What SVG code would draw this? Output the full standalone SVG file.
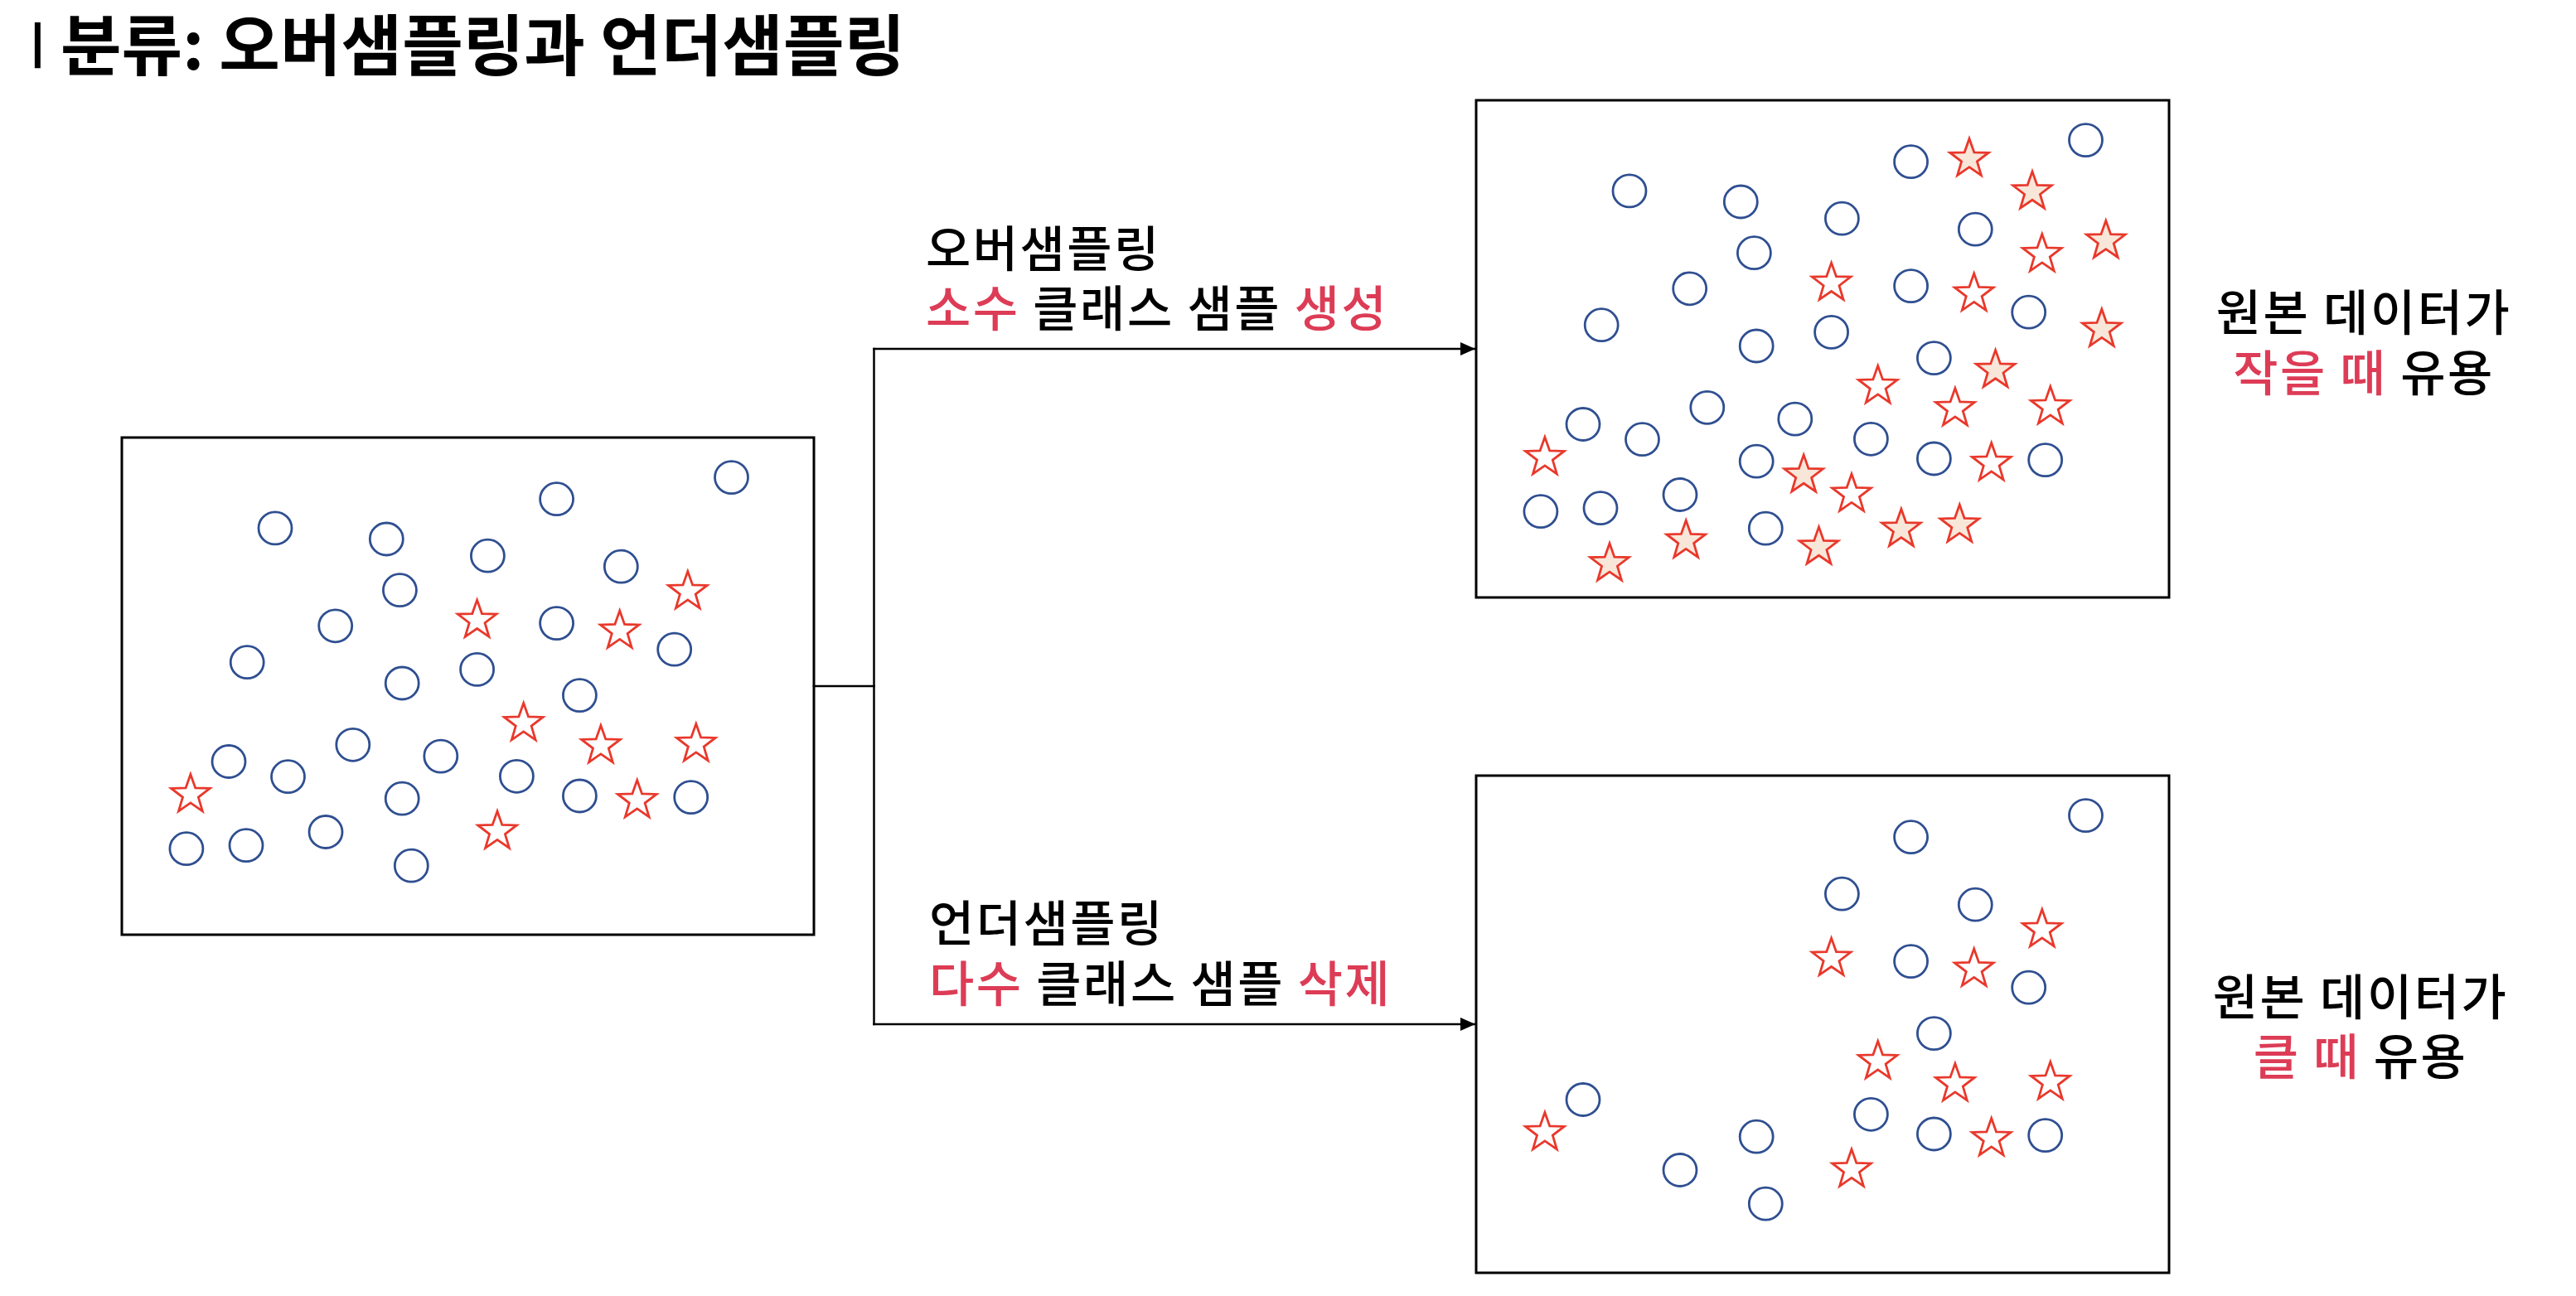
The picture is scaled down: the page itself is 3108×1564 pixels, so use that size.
<svg xmlns="http://www.w3.org/2000/svg" xmlns:xlink="http://www.w3.org/1999/xlink" width="3108" height="1564" viewBox="0 0 3108 1564">
<style>
.bg{fill:#fff}
.box{fill:#fff;stroke:#000;stroke-width:3}
.c{fill:none;stroke:#2F4F91;stroke-width:2.8}
.s{fill:#fff;stroke:#E9382B;stroke-width:2.8}
.sf{fill:#F8E7D9;stroke:#E9382B;stroke-width:2.8}
.t{font-family:"Noto Sans CJK KR","Noto Sans",sans-serif;fill:#000}
.title{font-size:80px;font-weight:700}
.bar{font-size:60px;font-weight:400;stroke:#000;stroke-width:2}
.lbl{font-size:59px;font-weight:500;letter-spacing:2.5px}
.red{fill:#DD3C56}
.conn{fill:none;stroke:#000;stroke-width:2.5;stroke-linecap:square}
</style>
<defs>
<path id="star" d="M0,-24.5 L5.823,-8.015 L23.301,-7.571 L9.422,3.061 L14.401,19.821 L0,9.907 L-14.401,19.821 L-9.422,3.061 L-23.301,-7.571 L-5.823,-8.015 Z"/>
<marker id="arr" markerUnits="userSpaceOnUse" markerWidth="19" markerHeight="16" refX="18" refY="8" orient="auto">
<path d="M0,0 L18,8 L0,16 Z" fill="#000"/>
</marker>
</defs>
<rect class="bg" x="0" y="0" width="3108" height="1564"/>

<g id="title">
<text class="t bar" x="45" y="77" text-anchor="middle">ㅣ</text>
<text class="t title" x="73" y="84">분류: 오버샘플링과 언더샘플링</text>
</g>

<g id="original" transform="translate(147,528)">
<rect class="box" x="0" y="0" width="835" height="600"/>
<ellipse class="c" cx="185" cy="109.4" rx="20" ry="19.5"/>
<ellipse class="c" cx="319.3" cy="122.5" rx="20" ry="19.5"/>
<ellipse class="c" cx="524.6" cy="74.2" rx="20" ry="19.5"/>
<ellipse class="c" cx="735.5" cy="48.1" rx="20" ry="19.5"/>
<ellipse class="c" cx="441.4" cy="142.7" rx="20" ry="19.5"/>
<ellipse class="c" cx="602.3" cy="155.7" rx="20" ry="19.5"/>
<ellipse class="c" cx="335.4" cy="184.2" rx="20" ry="19.5"/>
<ellipse class="c" cx="257.7" cy="227.3" rx="20" ry="19.5"/>
<ellipse class="c" cx="524.6" cy="224.1" rx="20" ry="19.5"/>
<ellipse class="c" cx="666.7" cy="255.7" rx="20" ry="19.5"/>
<ellipse class="c" cx="151.2" cy="271.2" rx="20" ry="19.5"/>
<ellipse class="c" cx="338.2" cy="296.5" rx="20" ry="19.5"/>
<ellipse class="c" cx="428.6" cy="279.9" rx="20" ry="19.5"/>
<ellipse class="c" cx="552.4" cy="311.1" rx="20" ry="19.5"/>
<ellipse class="c" cx="129" cy="391" rx="20" ry="19.5"/>
<ellipse class="c" cx="200.5" cy="409.2" rx="20" ry="19.5"/>
<ellipse class="c" cx="278.8" cy="370.8" rx="20" ry="19.5"/>
<ellipse class="c" cx="384.8" cy="384.6" rx="20" ry="19.5"/>
<ellipse class="c" cx="476.4" cy="408.8" rx="20" ry="19.5"/>
<ellipse class="c" cx="552.4" cy="432.5" rx="20" ry="19.5"/>
<ellipse class="c" cx="686.7" cy="434.1" rx="20" ry="19.5"/>
<ellipse class="c" cx="338.2" cy="435.7" rx="20" ry="19.5"/>
<ellipse class="c" cx="77.9" cy="496.2" rx="20" ry="19.5"/>
<ellipse class="c" cx="150" cy="492.2" rx="20" ry="19.5"/>
<ellipse class="c" cx="246" cy="476" rx="20" ry="19.5"/>
<ellipse class="c" cx="349.3" cy="516.7" rx="20" ry="19.5"/>
<use class="s" href="#star" x="428.6" y="220.6"/>
<use class="s" href="#star" x="682.8" y="186"/>
<use class="s" href="#star" x="600.7" y="233.5"/>
<use class="s" href="#star" x="484.7" y="345"/>
<use class="s" href="#star" x="577.9" y="372"/>
<use class="s" href="#star" x="692.8" y="370"/>
<use class="s" href="#star" x="82.9" y="431"/>
<use class="s" href="#star" x="621.7" y="438"/>
<use class="s" href="#star" x="453" y="475.5"/>
</g>

<g id="oversampled" transform="translate(1781,121)">
<rect class="box" x="0" y="0" width="836" height="600"/>
<ellipse class="c" cx="185" cy="109.4" rx="20" ry="19.5"/>
<ellipse class="c" cx="319.3" cy="122.5" rx="20" ry="19.5"/>
<ellipse class="c" cx="524.6" cy="74.2" rx="20" ry="19.5"/>
<ellipse class="c" cx="735.5" cy="48.1" rx="20" ry="19.5"/>
<ellipse class="c" cx="441.4" cy="142.7" rx="20" ry="19.5"/>
<ellipse class="c" cx="602.3" cy="155.7" rx="20" ry="19.5"/>
<ellipse class="c" cx="335.4" cy="184.2" rx="20" ry="19.5"/>
<ellipse class="c" cx="257.7" cy="227.3" rx="20" ry="19.5"/>
<ellipse class="c" cx="524.6" cy="224.1" rx="20" ry="19.5"/>
<ellipse class="c" cx="666.7" cy="255.7" rx="20" ry="19.5"/>
<ellipse class="c" cx="151.2" cy="271.2" rx="20" ry="19.5"/>
<ellipse class="c" cx="338.2" cy="296.5" rx="20" ry="19.5"/>
<ellipse class="c" cx="428.6" cy="279.9" rx="20" ry="19.5"/>
<ellipse class="c" cx="552.4" cy="311.1" rx="20" ry="19.5"/>
<ellipse class="c" cx="129" cy="391" rx="20" ry="19.5"/>
<ellipse class="c" cx="200.5" cy="409.2" rx="20" ry="19.5"/>
<ellipse class="c" cx="278.8" cy="370.8" rx="20" ry="19.5"/>
<ellipse class="c" cx="384.8" cy="384.6" rx="20" ry="19.5"/>
<ellipse class="c" cx="476.4" cy="408.8" rx="20" ry="19.5"/>
<ellipse class="c" cx="552.4" cy="432.5" rx="20" ry="19.5"/>
<ellipse class="c" cx="686.7" cy="434.1" rx="20" ry="19.5"/>
<ellipse class="c" cx="338.2" cy="435.7" rx="20" ry="19.5"/>
<ellipse class="c" cx="77.9" cy="496.2" rx="20" ry="19.5"/>
<ellipse class="c" cx="150" cy="492.2" rx="20" ry="19.5"/>
<ellipse class="c" cx="246" cy="476" rx="20" ry="19.5"/>
<ellipse class="c" cx="349.3" cy="516.7" rx="20" ry="19.5"/>
<use class="s" href="#star" x="428.6" y="220.6"/>
<use class="s" href="#star" x="682.8" y="186"/>
<use class="s" href="#star" x="600.7" y="233.5"/>
<use class="s" href="#star" x="484.7" y="345"/>
<use class="s" href="#star" x="577.9" y="372"/>
<use class="s" href="#star" x="692.8" y="370"/>
<use class="s" href="#star" x="82.9" y="431"/>
<use class="s" href="#star" x="621.7" y="438"/>
<use class="s" href="#star" x="453" y="475.5"/>
<use class="sf" href="#star" x="595" y="70.8"/>
<use class="sf" href="#star" x="671" y="110.4"/>
<use class="sf" href="#star" x="759.8" y="169.7"/>
<use class="sf" href="#star" x="754.8" y="276.5"/>
<use class="sf" href="#star" x="626.6" y="325.9"/>
<use class="sf" href="#star" x="395.2" y="452.4"/>
<use class="sf" href="#star" x="253.2" y="531.5"/>
<use class="sf" href="#star" x="161" y="559.2"/>
<use class="sf" href="#star" x="413.5" y="539.4"/>
<use class="sf" href="#star" x="512.9" y="517.7"/>
<use class="sf" href="#star" x="583.3" y="512.5"/>
</g>

<g id="undersampled" transform="translate(1781,936)">
<rect class="box" x="0" y="0" width="836" height="600"/>
<ellipse class="c" cx="524.6" cy="74.2" rx="20" ry="19.5"/>
<ellipse class="c" cx="735.5" cy="48.1" rx="20" ry="19.5"/>
<ellipse class="c" cx="441.4" cy="142.7" rx="20" ry="19.5"/>
<ellipse class="c" cx="602.3" cy="155.7" rx="20" ry="19.5"/>
<ellipse class="c" cx="524.6" cy="224.1" rx="20" ry="19.5"/>
<ellipse class="c" cx="666.7" cy="255.7" rx="20" ry="19.5"/>
<ellipse class="c" cx="552.4" cy="311.1" rx="20" ry="19.5"/>
<ellipse class="c" cx="129" cy="391" rx="20" ry="19.5"/>
<ellipse class="c" cx="476.4" cy="408.8" rx="20" ry="19.5"/>
<ellipse class="c" cx="552.4" cy="432.5" rx="20" ry="19.5"/>
<ellipse class="c" cx="686.7" cy="434.1" rx="20" ry="19.5"/>
<ellipse class="c" cx="338.2" cy="435.7" rx="20" ry="19.5"/>
<ellipse class="c" cx="246" cy="476" rx="20" ry="19.5"/>
<ellipse class="c" cx="349.3" cy="516.7" rx="20" ry="19.5"/>
<use class="s" href="#star" x="428.6" y="220.6"/>
<use class="s" href="#star" x="682.8" y="186"/>
<use class="s" href="#star" x="600.7" y="233.5"/>
<use class="s" href="#star" x="484.7" y="345"/>
<use class="s" href="#star" x="577.9" y="372"/>
<use class="s" href="#star" x="692.8" y="370"/>
<use class="s" href="#star" x="82.9" y="431"/>
<use class="s" href="#star" x="621.7" y="438"/>
<use class="s" href="#star" x="453" y="475.5"/>
</g>

<g id="connectors">
<path class="conn" d="M982,828 H1054.5"/>
<path class="conn" d="M1054.5,421 V1236"/>
<path class="conn" d="M1054.5,421 H1780" marker-end="url(#arr)"/>
<path class="conn" d="M1054.5,1236 H1780" marker-end="url(#arr)"/>
</g>

<g id="label-over">
<text class="t lbl" x="1117" y="322">오버샘플링</text>
<text class="t lbl" x="1117" y="394"><tspan class="red">소수</tspan> 클래스 샘플 <tspan class="red">생성</tspan></text>
</g>

<g id="label-under">
<text class="t lbl" x="1121" y="1136">언더샘플링</text>
<text class="t lbl" x="1121" y="1209"><tspan class="red">다수</tspan> 클래스 샘플 <tspan class="red">삭제</tspan></text>
</g>

<g id="note-over">
<text class="t lbl" x="2852" y="399" text-anchor="middle">원본 데이터가</text>
<text class="t lbl" x="2852" y="472" text-anchor="middle"><tspan class="red">작을 때</tspan> 유용</text>
</g>

<g id="note-under">
<text class="t lbl" x="2848" y="1225" text-anchor="middle">원본 데이터가</text>
<text class="t lbl" x="2848" y="1297" text-anchor="middle"><tspan class="red">클 때</tspan> 유용</text>
</g>
</svg>
